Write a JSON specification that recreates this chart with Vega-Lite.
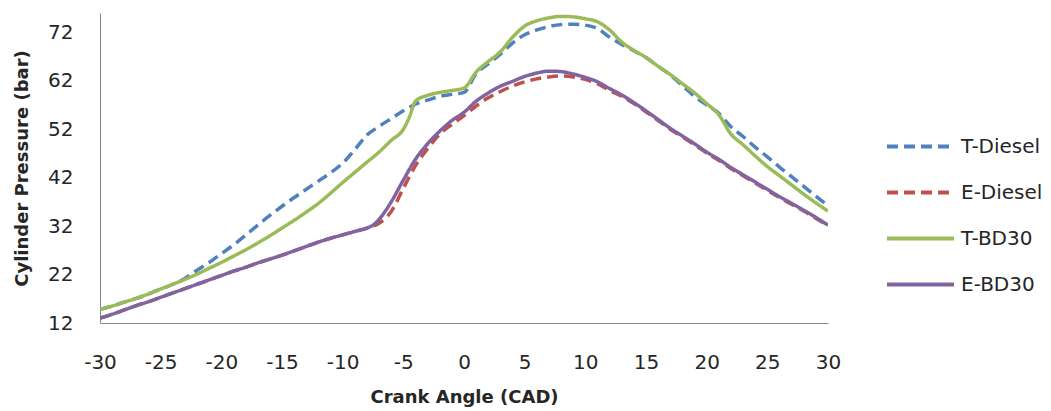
{
  "$schema": "https://vega.github.io/schema/vega-lite/v6.json",
  "width": 728,
  "height": 310,
  "autosize": "none",
  "padding": {"left": 100, "top": 13, "right": 223, "bottom": 88},
  "background": "white",
  "config": {
    "view": {"stroke": null},
    "font": "DejaVu Sans",
    "axis": {"domainColor": "#868686", "domainWidth": 1, "ticks": false, "grid": false, "labelFlush": false, "labelOverlap": false, "labelColor": "#262626", "labelFontSize": 20, "titleColor": "#262626", "titleFontSize": 18, "titleFontWeight": "bold", "labelFont": "DejaVu Sans", "titleFont": "DejaVu Sans"}
  },
  "datasets": {
    "pts": [
      {"fuel":"T-Diesel","angle":-30,"p":14.8},{"fuel":"T-Diesel","angle":-29,"p":15.5},{"fuel":"T-Diesel","angle":-28,"p":16.3},{"fuel":"T-Diesel","angle":-27,"p":17.1},{"fuel":"T-Diesel","angle":-26,"p":18.0},{"fuel":"T-Diesel","angle":-25,"p":19.0},{"fuel":"T-Diesel","angle":-24,"p":20.0},{"fuel":"T-Diesel","angle":-23,"p":21.2},{"fuel":"T-Diesel","angle":-22,"p":22.9},{"fuel":"T-Diesel","angle":-21,"p":24.5},{"fuel":"T-Diesel","angle":-20,"p":26.3},{"fuel":"T-Diesel","angle":-19,"p":28.1},{"fuel":"T-Diesel","angle":-18,"p":30.1},{"fuel":"T-Diesel","angle":-17,"p":32.2},{"fuel":"T-Diesel","angle":-16,"p":34.2},{"fuel":"T-Diesel","angle":-15,"p":36.1},{"fuel":"T-Diesel","angle":-14,"p":37.9},{"fuel":"T-Diesel","angle":-13,"p":39.6},{"fuel":"T-Diesel","angle":-12,"p":41.3},{"fuel":"T-Diesel","angle":-11,"p":43.0},{"fuel":"T-Diesel","angle":-10,"p":45.0},{"fuel":"T-Diesel","angle":-9,"p":47.8},{"fuel":"T-Diesel","angle":-8,"p":50.8},{"fuel":"T-Diesel","angle":-7,"p":52.6},{"fuel":"T-Diesel","angle":-6,"p":54.2},{"fuel":"T-Diesel","angle":-5,"p":55.8},{"fuel":"T-Diesel","angle":-4,"p":57.2},{"fuel":"T-Diesel","angle":-3,"p":58.0},{"fuel":"T-Diesel","angle":-2,"p":58.8},{"fuel":"T-Diesel","angle":-1,"p":59.2},{"fuel":"T-Diesel","angle":0,"p":59.6},{"fuel":"T-Diesel","angle":1,"p":63.5},{"fuel":"T-Diesel","angle":2,"p":65.5},{"fuel":"T-Diesel","angle":3,"p":67.5},{"fuel":"T-Diesel","angle":4,"p":69.8},{"fuel":"T-Diesel","angle":5,"p":71.5},{"fuel":"T-Diesel","angle":6,"p":72.5},{"fuel":"T-Diesel","angle":7,"p":73.2},{"fuel":"T-Diesel","angle":8,"p":73.6},{"fuel":"T-Diesel","angle":9,"p":73.7},{"fuel":"T-Diesel","angle":10,"p":73.5},{"fuel":"T-Diesel","angle":11,"p":72.8},{"fuel":"T-Diesel","angle":12,"p":71.0},{"fuel":"T-Diesel","angle":13,"p":69.5},{"fuel":"T-Diesel","angle":14,"p":68.2},{"fuel":"T-Diesel","angle":15,"p":66.8},{"fuel":"T-Diesel","angle":16,"p":65.0},{"fuel":"T-Diesel","angle":17,"p":63.2},{"fuel":"T-Diesel","angle":18,"p":61.0},{"fuel":"T-Diesel","angle":19,"p":58.8},{"fuel":"T-Diesel","angle":20,"p":57.0},{"fuel":"T-Diesel","angle":21,"p":55.3},{"fuel":"T-Diesel","angle":22,"p":52.5},{"fuel":"T-Diesel","angle":23,"p":50.5},{"fuel":"T-Diesel","angle":24,"p":48.3},{"fuel":"T-Diesel","angle":25,"p":46.3},{"fuel":"T-Diesel","angle":26,"p":44.2},{"fuel":"T-Diesel","angle":27,"p":42.2},{"fuel":"T-Diesel","angle":28,"p":40.2},{"fuel":"T-Diesel","angle":29,"p":38.2},{"fuel":"T-Diesel","angle":30,"p":36.2},

      {"fuel":"E-Diesel","angle":-30,"p":13.0},{"fuel":"E-Diesel","angle":-29,"p":13.8},{"fuel":"E-Diesel","angle":-28,"p":14.7},{"fuel":"E-Diesel","angle":-27,"p":15.6},{"fuel":"E-Diesel","angle":-26,"p":16.4},{"fuel":"E-Diesel","angle":-25,"p":17.3},{"fuel":"E-Diesel","angle":-24,"p":18.2},{"fuel":"E-Diesel","angle":-23,"p":19.1},{"fuel":"E-Diesel","angle":-22,"p":20.0},{"fuel":"E-Diesel","angle":-21,"p":20.9},{"fuel":"E-Diesel","angle":-20,"p":21.8},{"fuel":"E-Diesel","angle":-19,"p":22.7},{"fuel":"E-Diesel","angle":-18,"p":23.5},{"fuel":"E-Diesel","angle":-17,"p":24.4},{"fuel":"E-Diesel","angle":-16,"p":25.2},{"fuel":"E-Diesel","angle":-15,"p":26.0},{"fuel":"E-Diesel","angle":-14,"p":26.9},{"fuel":"E-Diesel","angle":-13,"p":27.8},{"fuel":"E-Diesel","angle":-12,"p":28.7},{"fuel":"E-Diesel","angle":-11,"p":29.5},{"fuel":"E-Diesel","angle":-10,"p":30.2},{"fuel":"E-Diesel","angle":-9,"p":30.9},{"fuel":"E-Diesel","angle":-8,"p":31.6},{"fuel":"E-Diesel","angle":-7,"p":32.6},{"fuel":"E-Diesel","angle":-6,"p":35.0},{"fuel":"E-Diesel","angle":-5,"p":39.8},{"fuel":"E-Diesel","angle":-4,"p":44.5},{"fuel":"E-Diesel","angle":-3,"p":48.0},{"fuel":"E-Diesel","angle":-2,"p":51.0},{"fuel":"E-Diesel","angle":-1,"p":53.0},{"fuel":"E-Diesel","angle":0,"p":54.8},{"fuel":"E-Diesel","angle":1,"p":56.8},{"fuel":"E-Diesel","angle":2,"p":58.5},{"fuel":"E-Diesel","angle":3,"p":59.8},{"fuel":"E-Diesel","angle":4,"p":60.9},{"fuel":"E-Diesel","angle":5,"p":61.8},{"fuel":"E-Diesel","angle":6,"p":62.4},{"fuel":"E-Diesel","angle":7,"p":62.8},{"fuel":"E-Diesel","angle":8,"p":63.0},{"fuel":"E-Diesel","angle":9,"p":62.8},{"fuel":"E-Diesel","angle":10,"p":62.3},{"fuel":"E-Diesel","angle":11,"p":61.4},{"fuel":"E-Diesel","angle":12,"p":60.0},{"fuel":"E-Diesel","angle":13,"p":58.8},{"fuel":"E-Diesel","angle":14,"p":57.3},{"fuel":"E-Diesel","angle":15,"p":55.6},{"fuel":"E-Diesel","angle":16,"p":53.8},{"fuel":"E-Diesel","angle":17,"p":52.0},{"fuel":"E-Diesel","angle":18,"p":50.4},{"fuel":"E-Diesel","angle":19,"p":48.8},{"fuel":"E-Diesel","angle":20,"p":47.1},{"fuel":"E-Diesel","angle":21,"p":45.6},{"fuel":"E-Diesel","angle":22,"p":43.9},{"fuel":"E-Diesel","angle":23,"p":42.4},{"fuel":"E-Diesel","angle":24,"p":40.9},{"fuel":"E-Diesel","angle":25,"p":39.4},{"fuel":"E-Diesel","angle":26,"p":37.9},{"fuel":"E-Diesel","angle":27,"p":36.5},{"fuel":"E-Diesel","angle":28,"p":35.1},{"fuel":"E-Diesel","angle":29,"p":33.6},{"fuel":"E-Diesel","angle":30,"p":32.1},

      {"fuel":"T-BD30","angle":-30,"p":14.8},{"fuel":"T-BD30","angle":-29,"p":15.5},{"fuel":"T-BD30","angle":-28,"p":16.3},{"fuel":"T-BD30","angle":-27,"p":17.1},{"fuel":"T-BD30","angle":-26,"p":18.0},{"fuel":"T-BD30","angle":-25,"p":19.0},{"fuel":"T-BD30","angle":-24,"p":20.0},{"fuel":"T-BD30","angle":-23,"p":21.0},{"fuel":"T-BD30","angle":-22,"p":22.1},{"fuel":"T-BD30","angle":-21,"p":23.3},{"fuel":"T-BD30","angle":-20,"p":24.5},{"fuel":"T-BD30","angle":-19,"p":25.8},{"fuel":"T-BD30","angle":-18,"p":27.1},{"fuel":"T-BD30","angle":-17,"p":28.5},{"fuel":"T-BD30","angle":-16,"p":30.0},{"fuel":"T-BD30","angle":-15,"p":31.6},{"fuel":"T-BD30","angle":-14,"p":33.2},{"fuel":"T-BD30","angle":-13,"p":34.9},{"fuel":"T-BD30","angle":-12,"p":36.7},{"fuel":"T-BD30","angle":-11,"p":38.8},{"fuel":"T-BD30","angle":-10,"p":41.0},{"fuel":"T-BD30","angle":-9,"p":43.1},{"fuel":"T-BD30","angle":-8,"p":45.2},{"fuel":"T-BD30","angle":-7,"p":47.3},{"fuel":"T-BD30","angle":-6,"p":49.7},{"fuel":"T-BD30","angle":-5,"p":52.0},{"fuel":"T-BD30","angle":-4.5,"p":54.5},{"fuel":"T-BD30","angle":-4,"p":57.8},{"fuel":"T-BD30","angle":-3,"p":59.0},{"fuel":"T-BD30","angle":-2,"p":59.6},{"fuel":"T-BD30","angle":-1,"p":60.0},{"fuel":"T-BD30","angle":0,"p":60.5},{"fuel":"T-BD30","angle":1,"p":63.8},{"fuel":"T-BD30","angle":2,"p":66.0},{"fuel":"T-BD30","angle":3,"p":68.0},{"fuel":"T-BD30","angle":4,"p":71.0},{"fuel":"T-BD30","angle":5,"p":73.3},{"fuel":"T-BD30","angle":6,"p":74.4},{"fuel":"T-BD30","angle":7,"p":75.0},{"fuel":"T-BD30","angle":8,"p":75.3},{"fuel":"T-BD30","angle":9,"p":75.2},{"fuel":"T-BD30","angle":10,"p":74.8},{"fuel":"T-BD30","angle":11,"p":74.2},{"fuel":"T-BD30","angle":12,"p":72.5},{"fuel":"T-BD30","angle":13,"p":70.0},{"fuel":"T-BD30","angle":14,"p":68.3},{"fuel":"T-BD30","angle":15,"p":66.8},{"fuel":"T-BD30","angle":16,"p":65.0},{"fuel":"T-BD30","angle":17,"p":63.3},{"fuel":"T-BD30","angle":18,"p":61.4},{"fuel":"T-BD30","angle":19,"p":59.5},{"fuel":"T-BD30","angle":20,"p":57.3},{"fuel":"T-BD30","angle":21,"p":55.0},{"fuel":"T-BD30","angle":22,"p":51.0},{"fuel":"T-BD30","angle":23,"p":48.8},{"fuel":"T-BD30","angle":24,"p":46.5},{"fuel":"T-BD30","angle":25,"p":44.3},{"fuel":"T-BD30","angle":26,"p":42.4},{"fuel":"T-BD30","angle":27,"p":40.5},{"fuel":"T-BD30","angle":28,"p":38.6},{"fuel":"T-BD30","angle":29,"p":36.8},{"fuel":"T-BD30","angle":30,"p":35.1},

      {"fuel":"E-BD30","angle":-30,"p":13.0},{"fuel":"E-BD30","angle":-29,"p":13.8},{"fuel":"E-BD30","angle":-28,"p":14.7},{"fuel":"E-BD30","angle":-27,"p":15.6},{"fuel":"E-BD30","angle":-26,"p":16.4},{"fuel":"E-BD30","angle":-25,"p":17.3},{"fuel":"E-BD30","angle":-24,"p":18.2},{"fuel":"E-BD30","angle":-23,"p":19.1},{"fuel":"E-BD30","angle":-22,"p":20.0},{"fuel":"E-BD30","angle":-21,"p":20.9},{"fuel":"E-BD30","angle":-20,"p":21.8},{"fuel":"E-BD30","angle":-19,"p":22.7},{"fuel":"E-BD30","angle":-18,"p":23.5},{"fuel":"E-BD30","angle":-17,"p":24.4},{"fuel":"E-BD30","angle":-16,"p":25.2},{"fuel":"E-BD30","angle":-15,"p":26.0},{"fuel":"E-BD30","angle":-14,"p":26.9},{"fuel":"E-BD30","angle":-13,"p":27.8},{"fuel":"E-BD30","angle":-12,"p":28.7},{"fuel":"E-BD30","angle":-11,"p":29.5},{"fuel":"E-BD30","angle":-10,"p":30.2},{"fuel":"E-BD30","angle":-9,"p":30.9},{"fuel":"E-BD30","angle":-8,"p":31.6},{"fuel":"E-BD30","angle":-7.5,"p":32.2},{"fuel":"E-BD30","angle":-7,"p":33.4},{"fuel":"E-BD30","angle":-6,"p":37.0},{"fuel":"E-BD30","angle":-5,"p":41.5},{"fuel":"E-BD30","angle":-4,"p":45.8},{"fuel":"E-BD30","angle":-3,"p":49.0},{"fuel":"E-BD30","angle":-2,"p":51.6},{"fuel":"E-BD30","angle":-1,"p":53.8},{"fuel":"E-BD30","angle":0,"p":55.5},{"fuel":"E-BD30","angle":1,"p":57.8},{"fuel":"E-BD30","angle":2,"p":59.5},{"fuel":"E-BD30","angle":3,"p":60.9},{"fuel":"E-BD30","angle":4,"p":61.9},{"fuel":"E-BD30","angle":5,"p":62.9},{"fuel":"E-BD30","angle":6,"p":63.6},{"fuel":"E-BD30","angle":7,"p":64.0},{"fuel":"E-BD30","angle":8,"p":63.9},{"fuel":"E-BD30","angle":9,"p":63.4},{"fuel":"E-BD30","angle":10,"p":62.7},{"fuel":"E-BD30","angle":11,"p":61.8},{"fuel":"E-BD30","angle":12,"p":60.4},{"fuel":"E-BD30","angle":13,"p":59.1},{"fuel":"E-BD30","angle":14,"p":57.5},{"fuel":"E-BD30","angle":15,"p":55.8},{"fuel":"E-BD30","angle":16,"p":54.0},{"fuel":"E-BD30","angle":17,"p":52.2},{"fuel":"E-BD30","angle":18,"p":50.6},{"fuel":"E-BD30","angle":19,"p":49.0},{"fuel":"E-BD30","angle":20,"p":47.3},{"fuel":"E-BD30","angle":21,"p":45.8},{"fuel":"E-BD30","angle":22,"p":44.1},{"fuel":"E-BD30","angle":23,"p":42.6},{"fuel":"E-BD30","angle":24,"p":41.1},{"fuel":"E-BD30","angle":25,"p":39.6},{"fuel":"E-BD30","angle":26,"p":38.1},{"fuel":"E-BD30","angle":27,"p":36.7},{"fuel":"E-BD30","angle":28,"p":35.3},{"fuel":"E-BD30","angle":29,"p":33.8},{"fuel":"E-BD30","angle":30,"p":32.2}
    ]
  },
  "data": {"name": "pts"},
  "mark": {"type": "line", "strokeWidth": 3.5, "interpolate": "monotone", "clip": true},
  "encoding": {
    "x": {"field": "angle", "type": "quantitative", "scale": {"domain": [-30, 30], "nice": false}, "axis": {"values": [-30,-25,-20,-15,-10,-5,0,5,10,15,20,25,30], "labelExpr": "'' + datum.value", "labelPadding": 29, "title": "Crank Angle (CAD)", "titlePadding": 16}},
    "y": {"field": "p", "type": "quantitative", "scale": {"domain": [12, 76], "nice": false, "zero": false}, "axis": {"values": [12,22,32,42,52,62,72], "labelPadding": 27, "title": "Cylinder Pressure (bar)", "titlePadding": 16}},
    "color": {"field": "fuel", "type": "nominal", "sort": ["T-Diesel","E-Diesel","T-BD30","E-BD30"], "scale": {"domain": ["T-Diesel","E-Diesel","T-BD30","E-BD30"], "range": ["#4F81BD","#C0504D","#9BBB59","#8064A2"]},
      "legend": {"title": null, "orient": "none", "legendX": 785, "legendY": 98, "symbolType": "stroke", "symbolSize": 4489, "symbolStrokeWidth": 4, "labelFontSize": 20, "labelColor": "#262626", "labelFont": "DejaVu Sans", "rowPadding": -22, "labelOffset": 5}},
    "strokeDash": {"field": "fuel", "type": "nominal", "sort": ["T-Diesel","E-Diesel","T-BD30","E-BD30"], "scale": {"domain": ["T-Diesel","E-Diesel","T-BD30","E-BD30"], "range": [[11,6],[11,6],[1,0],[1,0]]}}
  }
}
